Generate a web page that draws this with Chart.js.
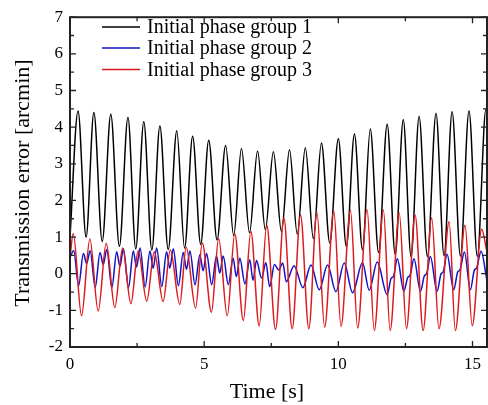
<!DOCTYPE html>
<html>
<head>
<meta charset="utf-8">
<script src="https://cdn.jsdelivr.net/npm/chart.js@4.4.1/dist/chart.umd.min.js"></script>
<style>
  html, body { margin: 0; padding: 0; background: #fff; }
</style>
</head>
<body>
<canvas id="chart" width="488" height="405"></canvas>
<script>
// Transmission error vs time, three initial phase groups

const seriesNames = ['Initial phase group 1', 'Initial phase group 2', 'Initial phase group 3'];

// group 1 (black): peaks and valleys
const blackT = [0, 0.30, 0.60, 0.89, 1.20, 1.52, 1.84, 2.16, 2.45, 2.75, 3.05, 3.35, 3.66, 3.98, 4.27, 4.57, 4.87, 5.17, 5.48, 5.80,
  6.10, 6.39, 6.69, 6.99, 7.28, 7.58, 7.88, 8.18, 8.47, 8.77, 9.07, 9.37, 9.68, 10.0, 10.3, 10.6, 10.9, 11.19, 11.5, 11.82,
  12.12, 12.42, 12.71, 13.01, 13.32, 13.64, 13.94, 14.24, 14.55, 14.87, 15.18, 15.50, 15.54];
const blackV = [1.0, 4.44, 1.0, 4.40, 0.88, 4.35, 0.75, 4.26, 0.68, 4.15, 0.65, 4.03, 0.66, 3.90, 0.70, 3.75, 0.80, 3.64, 0.92, 3.50,
  1.04, 3.42, 1.12, 3.35, 1.20, 3.33, 1.15, 3.38, 1.08, 3.44, 0.96, 3.57, 0.84, 3.68, 0.74, 3.81, 0.65, 3.95, 0.58, 4.08,
  0.52, 4.20, 0.47, 4.29, 0.47, 4.37, 0.49, 4.42, 0.48, 4.44, 0.47, 4.48, 4.47];

// group 2 (blue)
const blueT = [0, 0.14, 0.32, 0.50, 0.62, 0.75, 0.94, 1.12, 1.24, 1.37, 1.56, 1.74, 1.86, 1.99, 2.18, 2.36, 2.48, 2.61,
  2.80, 2.98, 3.10, 3.23, 3.42, 3.60, 3.72, 3.85, 4.04, 4.22, 4.34, 4.47, 4.66, 4.84, 4.96, 5.09, 5.28, 5.46, 5.58, 5.71,
  5.90, 6.08, 6.20, 6.33, 6.52, 6.70, 6.82, 6.95, 7.14, 7.30, 7.44, 7.62, 7.78, 7.93, 8.06, 8.35, 8.68, 8.98, 9.29, 9.60,
  9.91, 10.22, 10.53, 10.90, 11.15, 11.45, 11.82, 11.97, 12.05, 12.20, 12.44, 12.59, 12.67, 12.82, 13.06, 13.21, 13.29,
  13.43, 13.68, 13.83, 13.91, 14.05, 14.30, 14.45, 14.53, 14.70, 14.92, 15.07, 15.15, 15.32, 15.54];
const blueV = [0.45, 0.63, -0.33, 0.55, 0.28, 0.63, -0.37, 0.58, 0.25, 0.66, -0.38, 0.60, 0.20, 0.68, -0.38, 0.62, 0.18, 0.70,
  -0.36, 0.62, 0.15, 0.70, -0.35, 0.60, 0.15, 0.68, -0.33, 0.58, 0.12, 0.62, -0.30, 0.52, 0.08, 0.55, -0.30, 0.48, 0.02, 0.48,
  -0.30, 0.42, -0.08, 0.42, -0.28, 0.38, -0.18, 0.36, -0.12, 0.30, -0.35, 0.25, 0.10, 0.29, -0.22, 0.22, -0.38, 0.24, -0.44, 0.24,
  -0.49, 0.29, -0.52, 0.30, -0.45, 0.32, -0.57, -0.12, -0.08, 0.41, -0.48, -0.10, -0.05, 0.41, -0.48, -0.05, 0.0,
  0.47, -0.48, 0.0, 0.05, 0.53, -0.44, 0.05, 0.10, 0.59, -0.44, 0.10, 0.15, 0.61, -0.20];

// group 3 (red)
const redT = [0, 0.12, 0.43, 0.74, 1.05, 1.35, 1.67, 1.96, 2.27, 2.54, 2.86, 3.14, 3.47, 3.74, 4.09, 4.33, 4.68, 4.93, 5.27,
  5.54, 5.86, 6.14, 6.46, 6.74, 7.05, 7.33, 7.66, 7.97, 8.28, 8.59, 8.90, 9.20, 9.49, 9.83, 10.1, 10.45, 10.72, 11.07,
  11.34, 11.68, 11.93, 12.27, 12.54, 12.86, 13.16, 13.48, 13.75, 14.13, 14.36, 14.72, 14.99, 15.34, 15.54];
const redV = [0.45, 1.10, -1.15, 0.95, -1.02, 0.83, -0.92, 0.70, -0.82, 0.63, -0.75, 0.60, -0.76, 0.65, -0.84, 0.72, -0.94, 0.84, -1.05,
  0.96, -1.15, 1.09, -1.28, 1.16, -1.43, 1.33, -1.52, 1.52, -1.50, 1.61, -1.50, 1.68, -1.46, 1.72, -1.44, 1.74, -1.48, 1.75,
  -1.55, 1.74, -1.55, 1.66, -1.50, 1.60, -1.55, 1.52, -1.50, 1.42, -1.55, 1.32, -1.42, 1.21, 0.60];

const xMajorTicks = [0, 5, 10, 15];
const xMinorTicks = [2.5, 7.5, 12.5];
const yMajorTicks = [-2, -1, 0, 1, 2, 3, 4, 5, 6, 7];
const yMinorTicks = [-1.5, -0.5, 0.5, 1.5, 2.5, 3.5, 4.5, 5.5, 6.5];

const SERIF = '"Liberation Serif", "Times New Roman", serif';
const COLORS = ['#000000', '#1212c4', '#dc1a1e'];

function toPoints(ts, vs) {
  return ts.map((t, i) => ({ x: t, y: vs[i] }));
}

// frame, inward ticks, legend and axis titles
const framePlugin = {
  id: 'frame',
  afterDatasetsDraw(chart) {
    const { ctx, chartArea: a, scales: { x, y } } = chart;
    ctx.save();
    ctx.strokeStyle = '#222';
    ctx.lineWidth = 2;
    ctx.strokeRect(a.left, a.top, a.right - a.left, a.bottom - a.top);

    ctx.lineWidth = 1.3;
    ctx.beginPath();
    const xt = (v, len) => {
      const px = x.getPixelForValue(v);
      ctx.moveTo(px, a.bottom); ctx.lineTo(px, a.bottom - len);
      ctx.moveTo(px, a.top); ctx.lineTo(px, a.top + len);
    };
    const yt = (v, len) => {
      const py = y.getPixelForValue(v);
      ctx.moveTo(a.left, py); ctx.lineTo(a.left + len, py);
      ctx.moveTo(a.right, py); ctx.lineTo(a.right - len, py);
    };
    xMajorTicks.forEach(v => xt(v, 6));
    xMinorTicks.forEach(v => xt(v, 4));
    yMajorTicks.forEach(v => yt(v, 6));
    yMinorTicks.forEach(v => yt(v, 4));
    ctx.stroke();

    // legend
    const rows = [27, 48, 69.5];
    ctx.font = '20px ' + SERIF;
    ctx.fillStyle = '#000';
    ctx.textBaseline = 'middle';
    ctx.textAlign = 'left';
    seriesNames.forEach((name, i) => {
      ctx.strokeStyle = COLORS[i];
      ctx.lineWidth = 1.4;
      ctx.beginPath();
      ctx.moveTo(102, rows[i]);
      ctx.lineTo(140, rows[i]);
      ctx.stroke();
      ctx.fillText(name, 147, rows[i] + 1);
    });

    // axis titles
    ctx.font = '22px ' + SERIF;
    ctx.textAlign = 'center';
    ctx.fillText('Time [s]', 267, 392);
    ctx.translate(23, 183);
    ctx.rotate(-Math.PI / 2);
    ctx.fillText('Transmission error [arcmin]', 0, 0);
    ctx.restore();
  }
};

new Chart(document.getElementById('chart'), {
  type: 'line',
  data: {
    datasets: [
      { label: seriesNames[2], data: toPoints(redT, redV), borderColor: COLORS[2], order: 0 },
      { label: seriesNames[1], data: toPoints(blueT, blueV), borderColor: COLORS[1], order: 1 },
      { label: seriesNames[0], data: toPoints(blackT, blackV), borderColor: COLORS[0], order: 2 }
    ]
  },
  options: {
    responsive: false,
    animation: false,
    layout: { padding: { top: 11, right: 0, bottom: 0, left: 0 } },
    plugins: { legend: { display: false }, tooltip: { enabled: false } },
    elements: {
      point: { radius: 0 },
      line: { borderWidth: 1.5, cubicInterpolationMode: 'monotone', fill: false }
    },
    scales: {
      x: {
        type: 'linear',
        min: 0,
        max: 15.54,
        grid: { display: false, drawTicks: false },
        border: { display: false },
        afterBuildTicks: s => { s.ticks = xMajorTicks.map(v => ({ value: v })); },
        afterFit: s => { s.height = 58; },
        ticks: { font: { family: SERIF, size: 17 }, color: '#000', padding: 7, maxRotation: 0, autoSkip: false }
      },
      y: {
        min: -2,
        max: 7,
        grid: { display: false, drawTicks: false },
        border: { display: false },
        afterBuildTicks: s => { s.ticks = yMajorTicks.map(v => ({ value: v })); },
        afterFit: s => { s.width = 70; },
        ticks: { font: { family: SERIF, size: 17 }, color: '#000', padding: 7, autoSkip: false }
      }
    }
  },
  plugins: [framePlugin]
});
</script>
</body>
</html>
